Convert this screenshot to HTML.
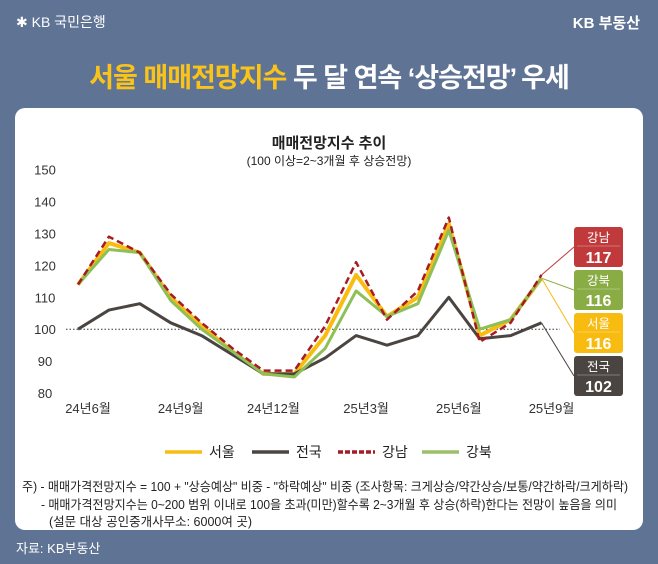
<!DOCTYPE html>
<html><head><meta charset="utf-8"><style>
body{margin:0;width:658px;height:564px;overflow:hidden;background:#5f7394;font-family:"Liberation Sans","Noto Sans CJK KR",sans-serif;position:relative}
.abs{position:absolute}
</style></head><body>
<div class="abs" style="left:16px;top:12px;color:#fff;font-size:14px">✱ KB 국민은행</div>
<div class="abs" style="right:18px;top:12px;color:#fff;font-size:15px;font-weight:bold">KB 부동산</div>
<div class="abs" style="left:0;width:658px;top:56px;text-align:center;font-size:27px;font-weight:bold;color:#fff;letter-spacing:-1px"><span style="color:#f9c31a">서울 매매전망지수</span> 두 달 연속 ‘상승전망’ 우세</div>
<div class="abs" style="left:15px;top:108px;width:628px;height:422px;background:#fff;border-radius:10px"></div>
<div class="abs" style="left:16px;top:538px;color:#fff;font-size:13px">자료: KB부동산</div>
<svg class="abs" style="left:0;top:0" width="658" height="564" id="chart">
<text x="329" y="148" text-anchor="middle" font-size="15" font-weight="bold" fill="#222">매매전망지수 추이</text>
<text x="329" y="165" text-anchor="middle" font-size="12" fill="#222">(100 이상=2~3개월 후 상승전망)</text>
<g id="axes"></g><g id="series"></g><g id="labels"></g>
<g id="legend"></g>
<text x="22" y="491" font-size="12.5" textLength="606" lengthAdjust="spacingAndGlyphs" fill="#222">주) - 매매가격전망지수 = 100 + "상승예상" 비중 - "하락예상" 비중 (조사항목: 크게상승/약간상승/보통/약간하락/크게하락)</text>
<text x="41" y="509" font-size="12.5" textLength="576" lengthAdjust="spacingAndGlyphs" fill="#222">- 매매가격전망지수는 0~200 범위 이내로 100을 초과(미만)할수록 2~3개월 후 상승(하락)한다는 전망이 높음을 의미</text>
<text x="49" y="526" font-size="12.5" fill="#222">(설문 대상 공인중개사무소: 6000여 곳)</text>
</svg>
<script>
const months=['24년6월','','','24년9월','','','24년12월','','','25년3월','','','25년6월','','','25년9월'];
const yTicks=[80,90,100,110,120,130,140,150];
const seoul=[114,127,124,110,101,93,86,86,98,117,104,110,133,98,103,116];
const national=[100,106,108,102,98,92,86,86,91,98,95,98,110,97,98,102];
const gangnam=[114,129,124,111,102,94,87,87,101,121,103,112,135,96,102,117];
const gangbuk=[114,125,124,109,100,93,86,85,94,112,104,108,131,100,103,116];
const NS='http://www.w3.org/2000/svg';
const x=i=>78+i*30.9;
const y=v=>393-(v-80)*3.19;
function mk(tag,attrs,parent){const e=document.createElementNS(NS,tag);for(const k in attrs)e.setAttribute(k,attrs[k]);parent.appendChild(e);return e;}
const axes=document.getElementById('axes');
yTicks.forEach(t=>{const e=mk('text',{x:45,y:y(t)+5,'text-anchor':'middle','font-size':13,fill:'#333'},axes);e.textContent=t;

});
months.forEach((m,i)=>{if(!m)return;const e=mk('text',{x:x(i)+10,y:413,'text-anchor':'middle','font-size':13,fill:'#333'},axes);e.textContent=m;

});
const ref=mk('line',{x1:66,x2:560,y1:y(100),y2:y(100),stroke:'#333','stroke-width':1,'stroke-dasharray':'1.5 2'},axes);


const sg=document.getElementById('series');
const defs=[['seoul',seoul,'#f9bd12',4,null,'서울'],['national',national,'#4a4541',3,null,'전국'],['gangbuk',gangbuk,'#8fc057',3,null,'강북'],['gangnam',gangnam,'#a51c24',2.5,'7 4','강남']];
defs.forEach(d=>{const p=mk('polyline',{points:d[1].map((v,i)=>x(i)+','+y(v)).join(' '),fill:'none',stroke:d[2],'stroke-width':d[3],'stroke-linejoin':'round'},sg);
if(d[4])p.setAttribute('stroke-dasharray',d[4]);

});
const boxes=[['gangnam','강남',gangnam,'#c0393b',227],['gangbuk','강북',gangbuk,'#89ac45',270],['seoul','서울',seoul,'#f8bb10',313],['national','전국',national,'#4a4541',356]];
const lg=document.getElementById('labels');
boxes.forEach(b=>{const last=b[2][b[2].length-1];
const c=mk('line',{x1:x(15),y1:y(last),x2:574,y2:b[4]+20,stroke:b[3],'stroke-width':1},lg);


const r=mk('rect',{x:574,y:b[4],width:49,height:40,rx:3,fill:b[3]},lg);


mk('line',{x1:577,x2:620,y1:b[4]+19,y2:b[4]+19,stroke:'rgba(255,255,255,0.4)','stroke-width':0.7},lg);
const t1=mk('text',{x:598.5,y:b[4]+15,'text-anchor':'middle','font-size':12.5,fill:'#fff'},lg);t1.textContent=b[1];
const t2=mk('text',{x:598.5,y:b[4]+36,'text-anchor':'middle','font-size':16,'font-weight':'bold',fill:'#fff'},lg);t2.textContent=last;});
const leg=document.getElementById('legend');
[['seoul','서울','#f9bd12',null,165],['national','전국','#4a4541',null,252],['gangnam','강남','#a51c24','5 2',338],['gangbuk','강북','#9cc06a',null,422]].forEach(l=>{
const g=mk('g',{},leg);


const ln=mk('line',{x1:l[4],x2:l[4]+37,y1:452,y2:452,stroke:l[2],'stroke-width':3.5},g);
if(l[3])ln.setAttribute('stroke-dasharray',l[3]);
const t=mk('text',{x:l[4]+44,y:457,'font-size':14,fill:'#222'},g);t.textContent=l[1];});
</script>
</body></html>
